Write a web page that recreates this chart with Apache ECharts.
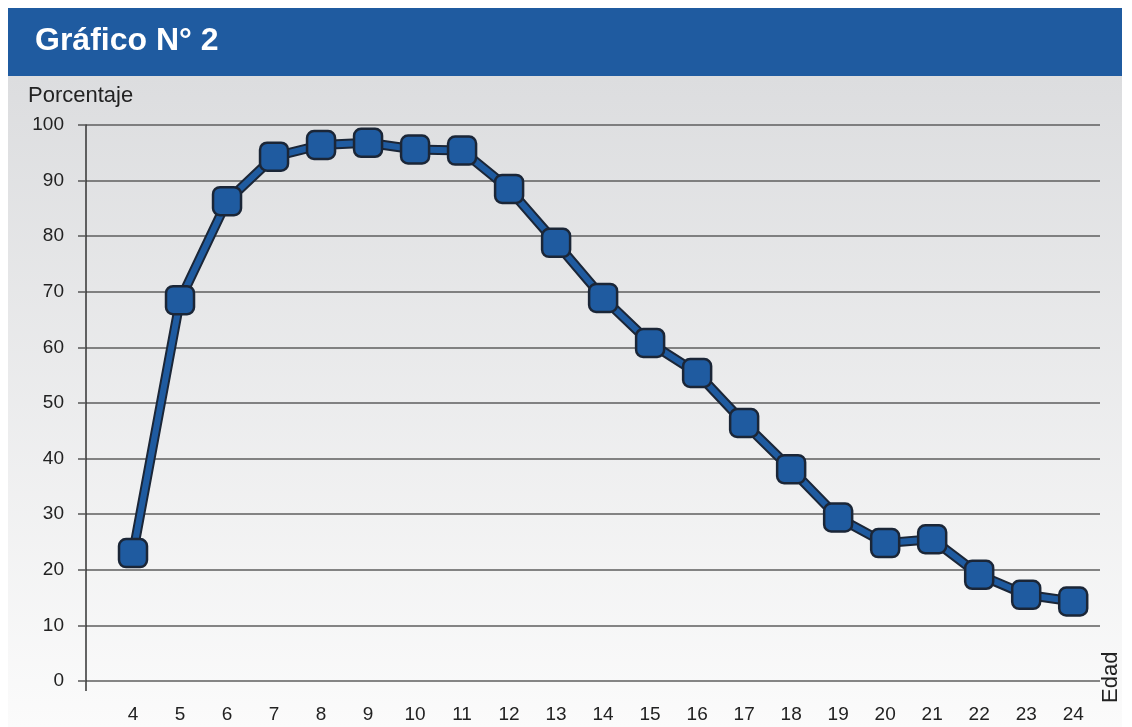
<!DOCTYPE html>
<html>
<head>
<meta charset="utf-8">
<script src="https://cdn.jsdelivr.net/npm/echarts@6/dist/echarts.min.js"></script>
<style>
  html, body { margin: 0; padding: 0; background: #fff; }
  #main { width: 1132px; height: 727px; }
</style>
</head>
<body>
<div id="main"></div>
<script>
// edades y porcentajes
var edades = [4, 5, 6, 7, 8, 9, 10, 11, 12, 13, 14, 15, 16, 17, 18, 19, 20, 21, 22, 23, 24];
var porcentajes = [23, 68.5, 86.3, 94.3, 96.4, 96.8, 95.6, 95.4, 88.5, 78.8, 68.9, 60.8, 55.4, 46.4, 38.1, 29.4, 24.8, 25.5, 19.1, 15.5, 14.3];
var yTicks = [0, 10, 20, 30, 40, 50, 60, 70, 80, 90, 100];

var puntos = [];
for (var i = 0; i < edades.length; i++) {
    puntos.push([edades[i], porcentajes[i]]);
}

var myChart = echarts.init(document.getElementById('main'));
myChart.setOption({
    animation: false,
    textStyle: { fontFamily: 'Liberation Sans, Arial, sans-serif' },
    graphic: [
        {
            type: 'rect', z: -10, silent: true,
            shape: { x: 8, y: 76, width: 1114, height: 651 },
            style: {
                fill: new echarts.graphic.LinearGradient(0, 0, 0, 1, [
                    { offset: 0, color: '#dcdddf' },
                    { offset: 1, color: '#fbfbfb' }
                ])
            }
        },
        {
            type: 'rect', z: -5, silent: true,
            shape: { x: 8, y: 8, width: 1114, height: 68 },
            style: { fill: '#1f5ba0' }
        },
        {
            type: 'text', left: 35, top: 25,
            style: { text: 'Gráfico N° 2', fill: '#ffffff', font: 'bold 32px "Liberation Sans", Arial, sans-serif' }
        },
        {
            type: 'text', left: 28, top: 85,
            style: { text: 'Porcentaje', fill: '#222', font: '22px "Liberation Sans", Arial, sans-serif' }
        },
        {
            type: 'text', x: 1100, y: 703, rotation: Math.PI / 2,
            style: { text: 'Edad', fill: '#222', font: '22px "Liberation Sans", Arial, sans-serif' }
        },
        {
            type: 'line', silent: true,
            shape: { x1: 86, y1: 681, x2: 86, y2: 691 },
            style: { stroke: '#333', lineWidth: 1.5 }
        }
    ],
    grid: { left: 86, right: 32, top: 125, bottom: 46 },
    xAxis: {
        type: 'value',
        min: 3,
        max: 24.57,
        interval: 1,
        axisLine: { show: false },
        axisTick: { show: false },
        splitLine: { show: false },
        axisLabel: {
            margin: 24,
            fontSize: 19,
            color: '#222',
            showMaxLabel: false,
            formatter: function (v) { return edades.indexOf(v) >= 0 ? String(v) : ''; }
        }
    },
    yAxis: {
        type: 'value',
        min: yTicks[0],
        max: yTicks[yTicks.length - 1],
        interval: 10,
        axisLine: { show: true, lineStyle: { color: '#333', width: 1.5 } },
        axisTick: { show: true, length: 8, lineStyle: { color: '#555', width: 1.5 } },
        splitLine: { show: true, lineStyle: { color: '#5e5e5e', width: 1.5 } },
        axisLabel: { margin: 22, fontSize: 19, color: '#222' }
    },
    series: [
        {
            type: 'line',
            data: puntos,
            symbol: 'none',
            lineStyle: { color: '#1b2637', width: 10 },
            z: 2
        },
        {
            type: 'line',
            data: puntos,
            symbol: 'roundRect',
            symbolSize: 28,
            lineStyle: { color: '#1f5ba0', width: 6 },
            itemStyle: { color: '#1f5ba0', borderColor: '#1b2637', borderWidth: 2.5 },
            z: 3
        }
    ]
});
</script>
</body>
</html>
